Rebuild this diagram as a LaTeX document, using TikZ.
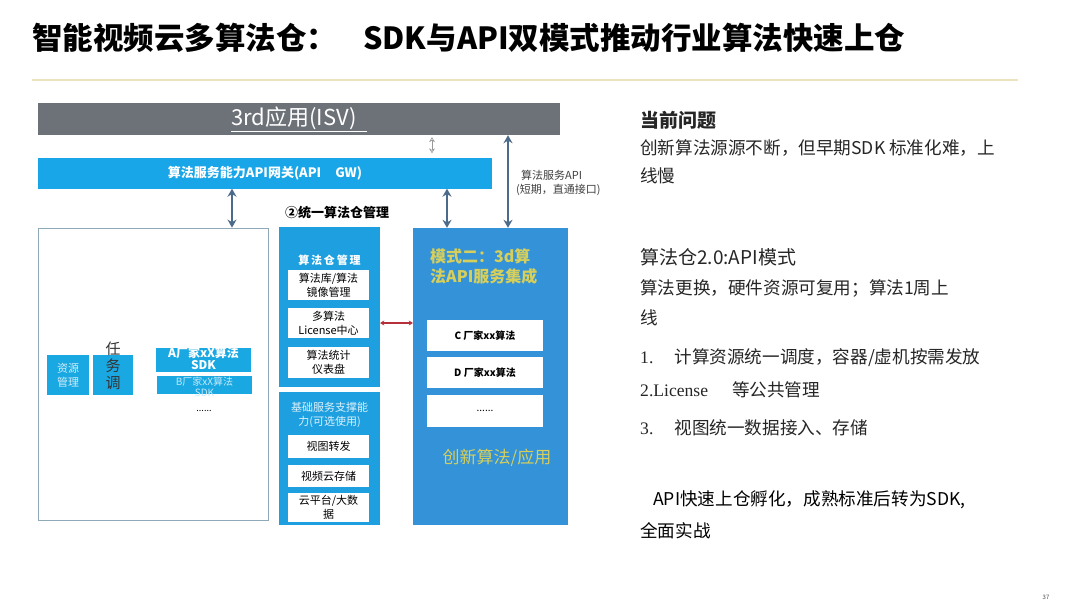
\documentclass[tikz,border=0pt]{standalone}
\usepackage{fontspec}
\setmainfont{Noto Sans CJK SC}
\newfontfamily\lserif{Liberation Serif}
\usetikzlibrary{arrows.meta}
\definecolor{isvgray}{HTML}{6D7178}
\definecolor{gwblue}{HTML}{18A6E8}
\definecolor{colblue}{HTML}{1EA0E0}
\definecolor{modeblue}{HTML}{3392D8}
\definecolor{smallblue}{HTML}{1AA8E2}
\definecolor{ytext}{HTML}{D6CF5C}
\definecolor{arrowc}{HTML}{4C6A8A}
\definecolor{redarrow}{HTML}{B5303A}
\definecolor{sepline}{HTML}{EEE3BF}
\definecolor{lborder}{HTML}{8EAAB8}
\tikzset{
  fs/.style={font=\fontsize{#1}{\fpeval{#1*1.25}}\selectfont},
  fsb/.style={font=\fontsize{#1}{\fpeval{#1*1.25}}\selectfont\bfseries},
  bx/.style={rectangle, inner sep=0pt, align=center},
  whitebox/.style={bx, fill=white, text=black},
  dblarrow/.style={arrowc, line width=2.6pt, {Stealth[length=8pt,width=9pt]}-{Stealth[length=8pt,width=9pt]}},
  rtext/.style={anchor=west, inner sep=0pt, fs=17.6, text=black!85}
}
\begin{document}
\begin{tikzpicture}[x=1pt,y=-1pt]
\useasboundingbox[fill=white] (0,0) rectangle (1080,608);
% title
\node[anchor=west, inner sep=0pt, fsb=30.5] (title) at (32,38) {智能视频云多算法仓：\hspace{26pt}SDK与API双模式推动行业算法快速上仓};
\draw[sepline, line width=2pt] (32,80) -- (1018,80);
% top bars
\node[bx, fill=isvgray, minimum width=522pt, minimum height=32pt, text=white, fs=22] (isv) at (299,119) {\underline{3rd应用(ISV)\hspace{10pt}}};
\node[bx, fill=gwblue, minimum width=454pt, minimum height=31pt, text=white, fsb=13] (gw) at (265,173) {算法服务能力API网关(API\hspace{14pt}GW)};
% left big box
\node[bx, draw=lborder, line width=0.8pt, fill=white, minimum width=230pt, minimum height=292pt] (left) at (153,374) {};
\node[bx, fill=smallblue, minimum width=42pt, minimum height=40pt, text=white!80!smallblue, fs=11] (res) at (68,375) {资源\\管理};
\node[bx, fill=smallblue, minimum width=40pt, minimum height=40pt] (task) at (113,375) {};
\node[bx, fs=15, text=black!80] (tasktxt) at (113,366) {任\\[-2pt]务\\[-2pt]调};
\node[bx, fill=smallblue, minimum width=95pt, minimum height=24pt] (sdka) at (203.5,360) {};
\node[bx, fill=smallblue, minimum width=95pt, minimum height=18pt] (sdkb) at (204.5,385) {};
\node[bx, fsb=12, text=white] (sdkatxt) at (203.5,358) {A厂家xX算法\\[-3pt]SDK};
\node[bx, fs=10, text=white!75!smallblue] (sdkbtxt) at (204.5,387) {B厂家xX算法\\[-1pt]SDK};
\node[bx, fs=9, text=black] (ldots) at (204,411) {......};
% middle column
\node[anchor=west, inner sep=0pt, fsb=13] (mtitle) at (285,213) {②统一算法仓管理};
\node[bx, fill=colblue, minimum width=101pt, minimum height=160pt] (repo) at (329.5,307) {};
\node[bx, fsb=11, text=white] (repot) at (329.5,260) {算\,法\,仓\,管\,理};
\node[whitebox, minimum width=81pt, minimum height=30pt, fs=11] (m1) at (328.5,285) {算法库/算法\\镜像管理};
\node[whitebox, minimum width=81pt, minimum height=30pt, fs=11] (m2) at (328.5,323) {多算法\\License中心};
\node[whitebox, minimum width=81pt, minimum height=31pt, fs=11] (m3) at (328.5,362.5) {算法统计\\仪表盘};
\node[bx, fill=colblue, minimum width=101pt, minimum height=133pt] (base) at (329.5,458.5) {};
\node[bx, fs=11, text=white!85!colblue] (baset) at (329.5,415) {基础服务支撑能\\力(可选使用)};
\node[whitebox, minimum width=81pt, minimum height=23pt, fs=11] (b1) at (328.5,446.5) {视图转发};
\node[whitebox, minimum width=81pt, minimum height=22pt, fs=11] (b2) at (328.5,476) {视频云存储};
\node[whitebox, minimum width=81pt, minimum height=29pt, fs=11] (b3) at (328.5,507.5) {云平台/大数\\据};
% right column (mode 2)
\node[bx, fill=modeblue, minimum width=155pt, minimum height=297pt] (mode) at (490.5,376.5) {};
\node[anchor=west, inner sep=0pt, align=left, fsb=16, text=ytext] (modet) at (430,266) {模式二：3d算\\法API服务集成};
\node[whitebox, minimum width=116pt, minimum height=31pt, fsb=10] (c1) at (485,335.5) {C 厂家xx算法};
\node[whitebox, minimum width=116pt, minimum height=31pt, fsb=10] (c2) at (485,372.5) {D 厂家xx算法};
\node[whitebox, minimum width=116pt, minimum height=32pt, fs=10] (c3) at (485,411) {......};
\node[bx, fs=17, text=ytext] (innov) at (497,458) {创新算法/应用};
% connectors
\coordinate (xa) at (232,0);
\coordinate (xb) at (447,0);
\coordinate (xc) at (508,0);
\coordinate (xd) at (432,0);
\draw[dblarrow] (gw.south -| xa) -- (left.north -| xa);
\draw[dblarrow] (gw.south -| xb) -- (mode.north -| xb);
\draw[dblarrow] (isv.south -| xc) -- (mode.north -| xc);
\draw[gray!80, line width=0.6pt, {Stealth[open,length=5pt,width=6pt]}-{Stealth[open,length=5pt,width=6pt]}] ([yshift=-2pt]isv.south -| xd) -- ([yshift=4pt]gw.north -| xd);
\draw[redarrow, line width=1.3pt, {Stealth[length=4pt,width=5pt]}-{Stealth[length=4pt,width=5pt]}] (repo.east |- m2) -- (mode.west |- m2);
\node[anchor=west, inner sep=0pt, align=left, fs=11, text=black!75] (apilbl) at (516,183) {\hspace{5pt}算法服务API\\(短期，直通接口)};
% right text
\node[rtext, fsb=19] (q) at (640,120) {当前问题};
\node[rtext] (q1) at (640,148) {创新算法源源不断，但早期SDK 标准化难，上};
\node[rtext] (q2) at (640,176) {线慢};
\node[rtext, fs=19] (a) at (640,257) {算法仓2.0:API模式};
\node[rtext] (a1) at (640,288) {算法更换，硬件资源可复用；算法1周上};
\node[rtext] (a2) at (640,318) {线};
\node[rtext] (p1) at (640,358) {{\lserif 1.}\hspace{21pt}计算资源统一调度，容器/虚机按需发放};
\node[rtext] (p2) at (640,390) {{\lserif 2.License}\hspace{24pt}等公共管理};
\node[rtext] (p3) at (640,428) {{\lserif 3.}\hspace{21pt}视图统一数据接入、存储};
\node[rtext, text=black] (f1) at (653,500) {API快速上仓孵化，成熟标准后转为SDK,};
\node[rtext, text=black] (f2) at (640,531) {全面实战};
\node[inner sep=0pt, fs=6, text=black!70] (pg) at (1046,597) {37};
\end{tikzpicture}
\end{document}
